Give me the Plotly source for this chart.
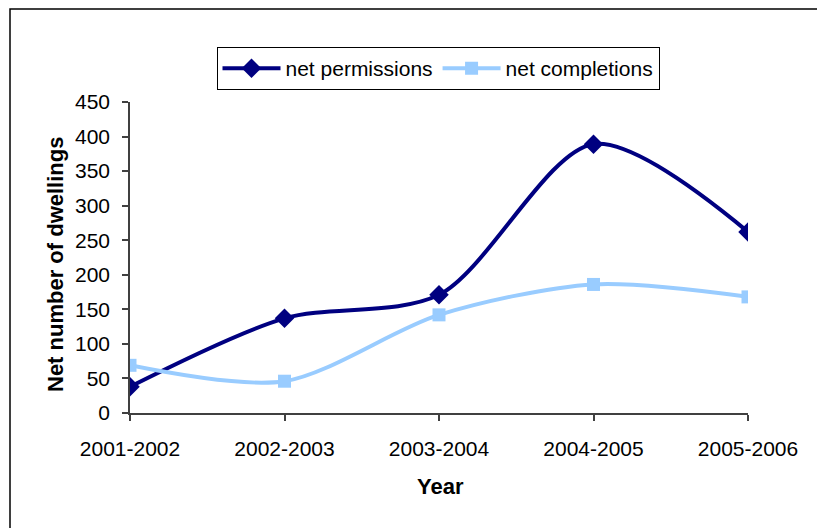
import plotly.graph_objects as go

years = ["2001-2002", "2002-2003", "2003-2004", "2004-2005", "2005-2006"]
net_permissions = [38, 137, 171, 389, 262]
net_completions = [69, 46, 142, 186, 168]
y_ticks = [0, 50, 100, 150, 200, 250, 300, 350, 400, 450]

OFF = 8  # page body margin
W, H = 825 - OFF, 528 - OFF
L, R, T, B = 130 - OFF, 825 - 748, 102 - OFF, 528 - 413
pw, ph = W - L - R, H - T - B

def px_x(p):
    return (p - OFF - L) / pw

def px_y(p):
    return (H - B - (p - OFF)) / ph

xs = list(range(len(years)))
font = "Liberation Sans, Arial, sans-serif"

fig = go.Figure()
fig.add_trace(go.Scatter(
    x=xs, y=net_permissions, name="net permissions", mode="lines+markers",
    line=dict(color="#000080", width=4, shape="spline", smoothing=0.85),
    marker=dict(symbol="diamond", size=15, color="#000080"),
))
fig.add_trace(go.Scatter(
    x=xs, y=net_completions, name="net completions", mode="lines+markers",
    line=dict(color="#99CCFF", width=4, shape="spline", smoothing=0.85),
    marker=dict(symbol="square", size=13, color="#99CCFF"),
))

fig.update_layout(
    width=W, height=H,
    margin=dict(l=L, r=R, t=T, b=B),
    paper_bgcolor="white", plot_bgcolor="white",
    font=dict(family=font, size=21, color="black"),
    showlegend=True,
    legend=dict(
        orientation="h", x=px_x(438), xanchor="center", y=px_y(47), yanchor="top",
        bordercolor="black", borderwidth=1, font=dict(size=21),
        itemwidth=58, tracegroupgap=0,
    ),
    xaxis=dict(
        range=[0, 4], tickvals=xs, ticktext=years, showgrid=False, zeroline=False,
        showline=True, linecolor="#404040", linewidth=1.5,
        ticks="outside", ticklen=6, tickcolor="#404040", tickwidth=1.5,
        ticklabelstandoff=10, tickfont=dict(size=21),
    ),
    yaxis=dict(
        range=[0, 450], tickvals=y_ticks, showgrid=False, zeroline=False,
        showline=True, linecolor="#404040", linewidth=1.5,
        ticks="outside", ticklen=6, tickcolor="#404040", tickwidth=1.5,
        ticklabelstandoff=8, tickfont=dict(size=21),
    ),
    annotations=[
        dict(text="<b>Net number of dwellings</b>", xref="paper", yref="paper",
             x=px_x(55), y=px_y(265), textangle=-90, showarrow=False,
             xanchor="center", yanchor="middle", font=dict(size=22)),
        dict(text="<b>Year</b>", xref="paper", yref="paper",
             x=px_x(440), y=px_y(486), showarrow=False,
             xanchor="center", yanchor="middle", font=dict(size=22)),
    ],
    shapes=[
        dict(type="rect", xref="paper", yref="paper",
             x0=px_x(10), x1=px_x(822), y0=px_y(540), y1=px_y(9),
             line=dict(color="black", width=1.5), fillcolor="rgba(0,0,0,0)", layer="below"),
    ],
)

fig.write_html("out.html")
